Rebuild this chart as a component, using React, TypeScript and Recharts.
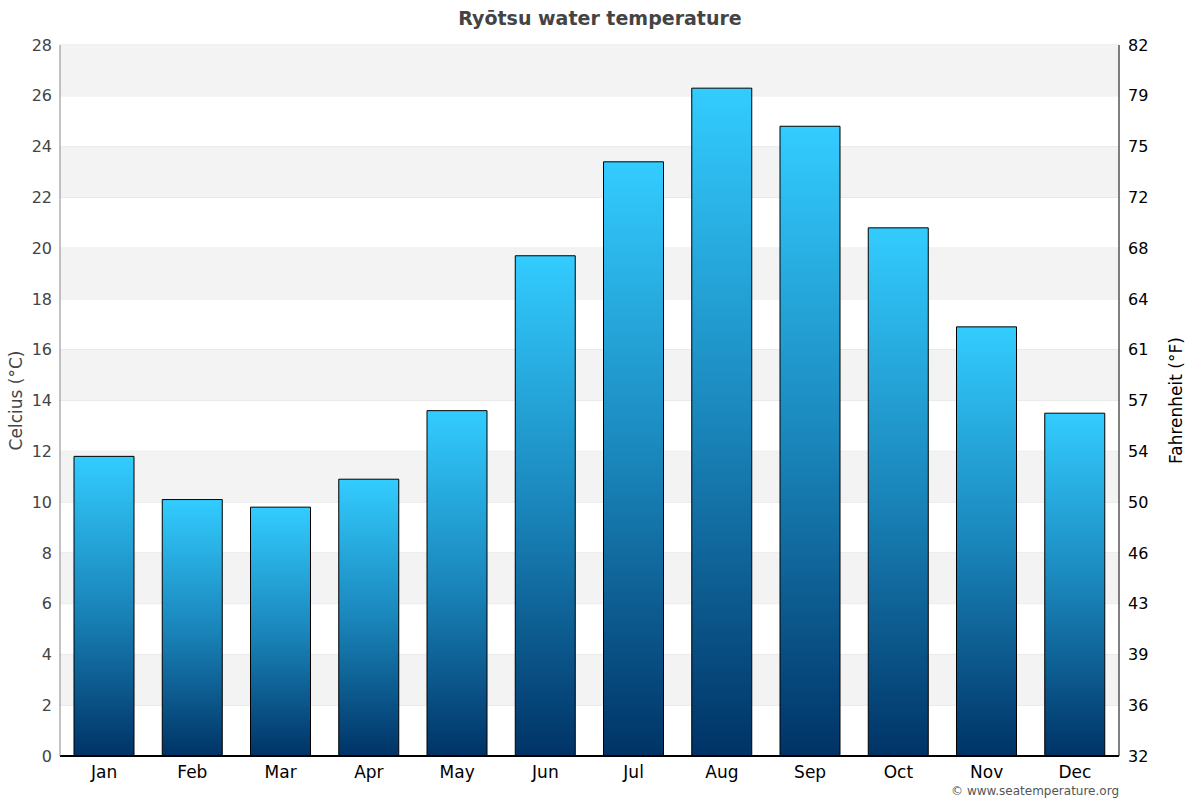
import {
  ComposedChart,
  Bar,
  Line,
  XAxis,
  YAxis,
  CartesianGrid,
  ReferenceArea,
  Label,
} from "recharts";

const months = ["Jan", "Feb", "Mar", "Apr", "May", "Jun", "Jul", "Aug", "Sep", "Oct", "Nov", "Dec"];
const waterTemp = [11.8, 10.1, 9.8, 10.9, 13.6, 19.7, 23.4, 26.3, 24.8, 20.8, 16.9, 13.5];
const celsiusTicks = [0, 2, 4, 6, 8, 10, 12, 14, 16, 18, 20, 22, 24, 26, 28];
const fahrenheitLabels = ["32", "36", "39", "43", "46", "50", "54", "57", "61", "64", "68", "72", "75", "79", "82"];
const shadedBands = [2, 6, 10, 14, 18, 22, 26];

const data = months.map((m, i) => ({ month: m, temp: waterTemp[i] }));

const FONT = "'DejaVu Sans', sans-serif";

export default function App() {
  return (
    <div style={{ position: "absolute", left: 0, top: 0, width: 1200, height: 800, background: "#fff", fontFamily: FONT }}>
      <div
        style={{
          position: "absolute",
          top: 7,
          width: 1200,
          textAlign: "center",
          fontSize: 19,
          fontWeight: "bold",
          color: "#444",
        }}
      >
        Ryōtsu water temperature
      </div>
      <ComposedChart
        width={1200}
        height={800}
        data={data}
        margin={{ top: 45, right: 0, bottom: 0, left: 0 }}
        barSize={60}
      >
        <defs>
          <linearGradient id="barFill" x1="0" y1="0" x2="0" y2="1">
            <stop offset="0%" stopColor="#33ccff" />
            <stop offset="50%" stopColor="#1a86bb" />
            <stop offset="100%" stopColor="#003366" />
          </linearGradient>
        </defs>
        {shadedBands.map((b) => (
          <ReferenceArea
            key={b}
            yAxisId="c"
            y1={b}
            y2={b + 2}
            fill="#f3f3f3"
            fillOpacity={1}
            stroke="none"
            ifOverflow="visible"
          />
        ))}
        <CartesianGrid yAxisId="c" vertical={false} stroke="#e0e0e0" strokeWidth={1} />
        <XAxis
          dataKey="month"
          height={44}
          tickLine={false}
          axisLine={{ stroke: "#000", strokeWidth: 2 }}
          tick={{ fill: "#000", fontSize: 17, fontFamily: FONT }}
          tickMargin={4}
        />
        <YAxis
          yAxisId="c"
          width={60}
          domain={[0, 28]}
          ticks={celsiusTicks}
          interval={0}
          tickLine={false}
          axisLine={{ stroke: "#888" }}
          tick={{ fill: "#444", fontSize: 16, fontFamily: FONT }}
          tickMargin={2}
        >
          <Label
            value="Celcius (°C)"
            angle={-90}
            position="insideLeft"
            offset={16}
            style={{ textAnchor: "middle", fill: "#444", fontSize: 17, fontFamily: FONT }}
          />
        </YAxis>
        <YAxis
          yAxisId="f"
          orientation="right"
          width={81}
          domain={[0, 28]}
          ticks={celsiusTicks}
          interval={0}
          tickFormatter={(v: number) => fahrenheitLabels[celsiusTicks.indexOf(v)]}
          tickLine={false}
          axisLine={{ stroke: "#000" }}
          tick={{ fill: "#000", fontSize: 16, fontFamily: FONT }}
          tickMargin={3}
        >
          <Label
            value="Fahrenheit (°F)"
            angle={-90}
            position="insideRight"
            offset={24}
            style={{ textAnchor: "middle", fill: "#000", fontSize: 17, fontFamily: FONT }}
          />
        </YAxis>
        <Bar
          yAxisId="c"
          dataKey="temp"
          fill="url(#barFill)"
          stroke="#000"
          strokeWidth={1}
          isAnimationActive={false}
        />
        <Line
          yAxisId="f"
          dataKey="temp"
          stroke="none"
          dot={false}
          activeDot={false}
          legendType="none"
          isAnimationActive={false}
        />
      </ComposedChart>
      <div
        style={{
          position: "absolute",
          right: 81,
          top: 784,
          fontSize: 12,
          color: "#555",
        }}
      >
        © www.seatemperature.org
      </div>
    </div>
  );
}
